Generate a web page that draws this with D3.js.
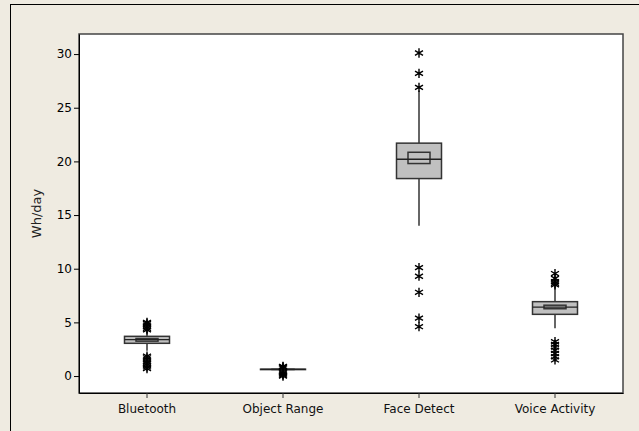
<!DOCTYPE html>
<html>
<head>
<meta charset="utf-8">
<script src="https://cdn.jsdelivr.net/npm/d3@7"></script>
<style>
  html, body { margin: 0; padding: 0; background: #efebe1; }
  svg { display: block; }
  text { font-family: "DejaVu Sans", Verdana, sans-serif; }
</style>
</head>
<body>
<svg id="chart" width="639" height="431"></svg>
<script>
// ---- data ----
const categories = ["Bluetooth", "Object Range", "Face Detect", "Voice Activity"];
const q1         = [3.05, 0.60, 18.4, 5.75];
const median     = [3.40, 0.62, 20.2, 6.43];
const q3         = [3.70, 0.64, 21.7, 6.93];
const ciLow      = [3.25, 0.61, 19.8, 6.27];
const ciHigh     = [3.50, 0.63, 20.85, 6.60];
const whiskerLow = [2.35, 0.60, 14.0, 4.45];
const whiskerHigh= [4.10, 0.64, 26.6, 8.30];
const outliers = [
  [4.3, 4.45, 4.6, 4.75, 4.9, 5.0, 0.7, 0.85, 1.0, 1.15, 1.3, 1.5, 1.7, 1.85],
  [0.0, 0.1, 0.2, 0.3, 0.4, 0.75, 0.85, 0.9],
  [30.1, 28.2, 26.9, 10.1, 9.3, 7.8, 5.4, 4.6],
  [9.55, 9.1, 8.8, 8.5, 8.65, 3.2, 2.95, 2.7, 2.4, 2.1, 1.8, 1.5]
];
const yTicks = [0, 5, 10, 15, 20, 25, 30];
const yLabel = "Wh/day";

// ---- layout ----
const svg = d3.select("#chart");
const pLeft = 79, pRight = 623, pTop = 34, pBottom = 393;

// outer frame
svg.append("line").attr("x1", 10).attr("x2", 639).attr("y1", 4.5).attr("y2", 4.5)
  .attr("stroke", "#000").attr("stroke-width", 1);
svg.append("line").attr("x1", 10.5).attr("x2", 10.5).attr("y1", 4).attr("y2", 431)
  .attr("stroke", "#000").attr("stroke-width", 1);

// plot area
svg.append("rect").attr("x", pLeft).attr("y", pTop)
  .attr("width", pRight - pLeft).attr("height", pBottom - pTop)
  .attr("fill", "#fff").attr("stroke", "#444").attr("stroke-width", 1.5);

const x = d3.scaleBand().domain(categories).range([pLeft, pRight]);
const y = d3.scaleLinear().domain([-1.58, 31.87]).range([pBottom, pTop]);

// axes
const yAxis = d3.axisLeft(y).tickValues(yTicks).tickSize(5).tickSizeOuter(0).tickPadding(2);
const gy = svg.append("g").attr("transform", `translate(${pLeft},0)`).call(yAxis);
gy.select(".domain").attr("stroke", "#000");
gy.selectAll(".tick line").attr("stroke", "#000");
gy.selectAll(".tick text").attr("font-size", 12).attr("fill", "#000")
  .attr("font-family", "DejaVu Sans, sans-serif");

const xAxis = d3.axisBottom(x).tickSize(5).tickSizeOuter(0).tickPadding(6);
const gx = svg.append("g").attr("transform", `translate(0,${pBottom})`).call(xAxis);
gx.select(".domain").attr("stroke", "#000");
gx.selectAll(".tick line").attr("stroke", "#333");
gx.selectAll(".tick text").attr("font-size", 12).attr("fill", "#111")
  .attr("font-family", "DejaVu Sans, sans-serif");

// y label
svg.append("text")
  .attr("transform", `translate(41,${(pTop + pBottom) / 2}) rotate(-90)`)
  .attr("text-anchor", "middle")
  .attr("font-size", 13).attr("fill", "#222")
  .text(yLabel);

// boxes
const boxW = 45, ciW = 22;
const g = svg.append("g");
categories.forEach((c, i) => {
  const cx = x(c) + x.bandwidth() / 2;
  g.append("line").attr("x1", cx).attr("x2", cx)
    .attr("y1", y(q3[i])).attr("y2", y(whiskerHigh[i]))
    .attr("stroke", "#333").attr("stroke-width", 1.5);
  g.append("line").attr("x1", cx).attr("x2", cx)
    .attr("y1", y(q1[i])).attr("y2", y(whiskerLow[i]))
    .attr("stroke", "#333").attr("stroke-width", 1.5);
  g.append("rect").attr("x", cx - boxW / 2).attr("y", y(q3[i]))
    .attr("width", boxW).attr("height", Math.max(0.01, y(q1[i]) - y(q3[i])))
    .attr("fill", "#c0c0c0").attr("stroke", "#333").attr("stroke-width", 1.5);
  g.append("rect").attr("x", cx - ciW / 2).attr("y", y(ciHigh[i]))
    .attr("width", ciW).attr("height", Math.max(0.01, y(ciLow[i]) - y(ciHigh[i])))
    .attr("fill", "#c0c0c0").attr("stroke", "#333").attr("stroke-width", 1.5);
  g.append("line").attr("x1", cx - boxW / 2).attr("x2", cx + boxW / 2)
    .attr("y1", y(median[i])).attr("y2", y(median[i]))
    .attr("stroke", "#222").attr("stroke-width", 1.3);
  const sym = d3.symbol().type(d3.symbolAsterisk).size(60);
  outliers[i].forEach(v => {
    g.append("path").attr("d", sym())
      .attr("transform", `translate(${cx},${y(v)})`)
      .attr("fill", "none").attr("stroke", "#000").attr("stroke-width", 1.4);
  });
});
</script>
</body>
</html>
